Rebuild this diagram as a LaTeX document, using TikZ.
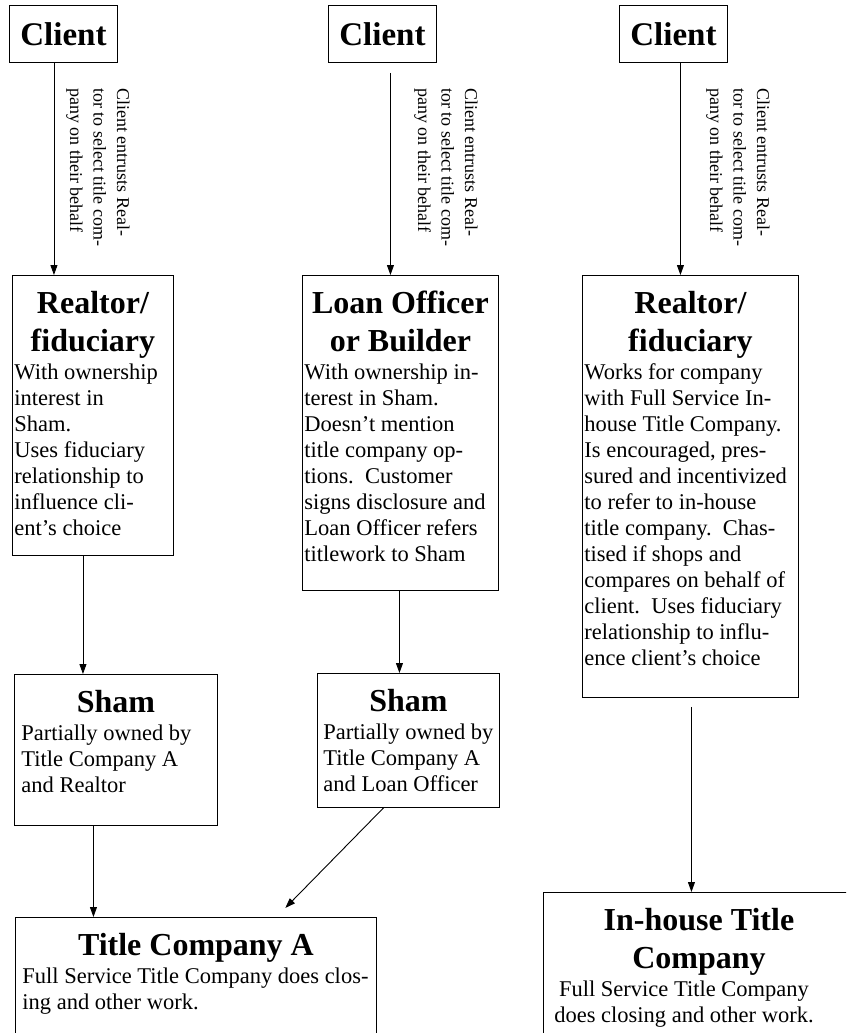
\documentclass[tikz,border=0pt]{standalone}
\usepackage{fontspec}
\setmainfont{Liberation Serif}
\usetikzlibrary{arrows.meta}

\newcommand{\clientfont}{\fontsize{33}{38}\selectfont\bfseries}
\newcommand{\cardhead}{\fontsize{32}{38}\selectfont\bfseries}
\newcommand{\cardbody}{\fontsize{22.5}{26}\selectfont\mdseries}
\newcommand{\notefont}{\fontsize{18}{23.5}\selectfont}
% box text: {height}{width}{heading}{body}
\newcommand{\cardtext}[4]{\parbox[c][#1][t]{#2}{\parskip=0pt\centering\cardhead\rule{0pt}{38pt}#3\par\vspace{2pt}\raggedright\cardbody #4\par}}

\begin{document}
\begin{tikzpicture}[x=1pt, y=-1pt, >={Triangle[length=10pt,width=7pt]}, line width=0.9pt,
	client/.style={draw, anchor=north west, minimum width=108pt, minimum height=57pt, inner sep=0pt, font=\clientfont},
	card/.style={draw, anchor=north west, inner xsep=2pt, inner ysep=0pt},
	note/.style={anchor=north west, rotate=-90, align=left, inner sep=0pt, font=\notefont}]
	\useasboundingbox (0,0) rectangle (846,1033);
	\clip (0,0) rectangle (846,1033);

	% Clients
	\node [client] (cliL) at (9,5)   {Client};
	\node [client] (cliM) at (328,5) {Client};
	\node [client] (cliR) at (619,5) {Client};

	% Notes on the first arrows
	\node [note] (noteL) at (130,88) {Client entrusts Real-\\tor to select title com-\\pany on their behalf};
	\node [note] (noteM) at (478,88) {Client entrusts Real-\\tor to select title com-\\pany on their behalf};
	\node [note] (noteR) at (770,88) {Client entrusts Real-\\tor to select title com-\\pany on their behalf};

	% Referrers
	\node [card] (realL) at (12,275) {\cardtext{280pt}{157pt}{Realtor/\\fiduciary}{With ownership\\interest in\\Sham.\\Uses fiduciary\\relationship to\\influence cli-\\ent's choice}};
	\node [card] (loan)  at (302,275) {\cardtext{315pt}{192pt}{Loan Officer\\or Builder}{With ownership in-\\terest in Sham.\\Doesn't mention\\title company op-\\tions.\ \ Customer\\signs disclosure and\\Loan Officer refers\\titlework to Sham}};
	\node [card] (realR) at (582,275) {\cardtext{422pt}{212pt}{Realtor/\\fiduciary}{Works for company\\with Full Service In-\\house Title Company.\\Is encouraged, pres-\\sured and incentivized\\to refer to in-house\\title company.\ \ Chas-\\tised if shops and\\compares on behalf of\\client.\ \ Uses fiduciary\\relationship to influ-\\ence client's choice}};

	% Sham companies
	\node [card, inner xsep=7pt] (shamL) at (14,674)  {\cardtext{151pt}{189pt}{Sham}{Partially owned by\\Title Company A\\and Realtor}};
	\node [card, inner xsep=6pt] (shamM) at (317,673) {\cardtext{134pt}{170pt}{Sham}{Partially owned by\\Title Company A\\and Loan Officer}};

	% Title companies
	\node [card, inner xsep=7pt] (titleA)  at (15,917)  {\cardtext{140pt}{347pt}{Title Company A}{Full Service Title Company does clos-\\ing and other work.}};
	\node [card, inner xsep=7pt] (inhouse) at (543,892) {\cardtext{160pt}{297pt}{In-house Title\\Company}{\centering\advance\rightskip by 30pt Full Service Title Company\\does closing and other work.}};

	% Arrow start points
	\coordinate (aL) at ([xshift=-9.5pt]cliL.south);
	\coordinate (aM) at ([xshift=8pt]cliM.south);
	\coordinate (aR) at ([xshift=7pt]cliR.south);
	\coordinate (bL) at ([xshift=-10pt]realL.south);
	\coordinate (bM) at ([xshift=-1pt]loan.south);
	\coordinate (bR) at ([xshift=1pt]realR.south);
	\coordinate (cL) at ([xshift=-22.5pt]shamL.south);
	\coordinate (cM) at ([xshift=-25pt]shamM.south);
	\coordinate (cA) at ([xshift=80.5pt]titleA.north);

	% Paths
	\draw [->] (aL) -- (aL |- realL.north);
	\draw [->, shorten <=10pt] (aM) -- (aM |- loan.north);
	\draw [->] (aR) -- (aR |- realR.north);
	\draw [->] (bL) -- (bL |- shamL.north);
	\draw [->] (bM) -- (bM |- shamM.north);
	\draw [->, shorten <=9pt] (bR) -- (bR |- inhouse.north);
	\draw [->] (cL) -- (cL |- titleA.north);
	\draw [->, shorten >=12.7pt] (cM) -- (cA);
\end{tikzpicture}
\end{document}
